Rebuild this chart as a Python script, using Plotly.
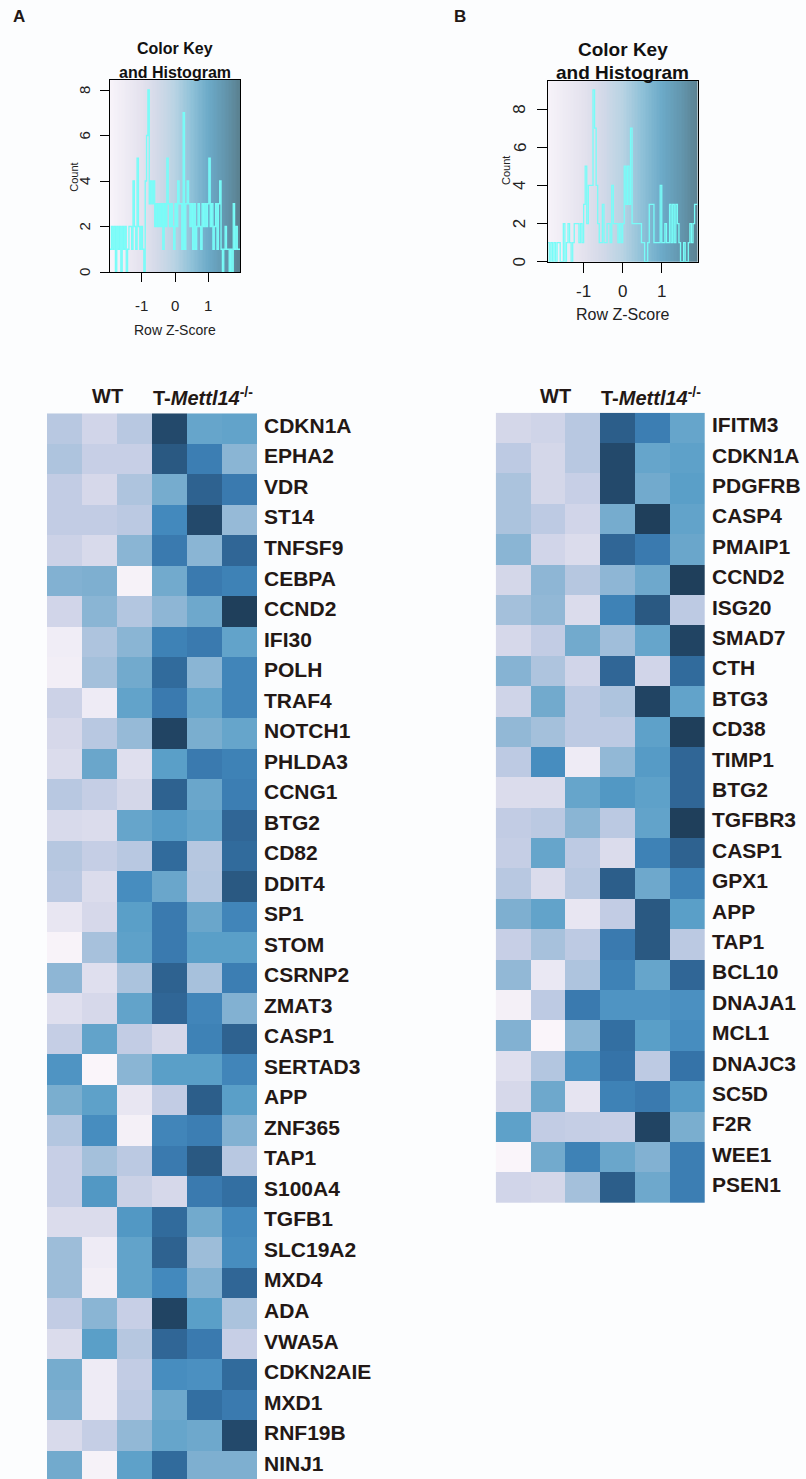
import plotly.graph_objects as go
import numpy as np

# ---------------- data ----------------
genes_a = ["CDKN1A", "EPHA2", "VDR", "ST14", "TNFSF9", "CEBPA", "CCND2", "IFI30", "POLH",
           "TRAF4", "NOTCH1", "PHLDA3", "CCNG1", "BTG2", "CD82", "DDIT4", "SP1", "STOM",
           "CSRNP2", "ZMAT3", "CASP1", "SERTAD3", "APP", "ZNF365", "TAP1", "S100A4",
           "TGFB1", "SLC19A2", "MXD4", "ADA", "VWA5A", "CDKN2AIE", "MXD1", "RNF19B", "NINJ1"]
z_a = [
    [-0.5, -1.0, -0.5, 1.85, 0.65, 0.7],
    [-0.3, -0.8, -0.8, 1.7, 1.25, 0.2],
    [-0.7, -1.1, -0.3, 0.45, 1.6, 1.3],
    [-0.7, -0.7, -0.55, 1.1, 1.85, 0.05],
    [-0.9, -1.15, 0.2, 1.3, 0.2, 1.55],
    [0.3, 0.35, -1.85, 0.5, 1.3, 1.2],
    [-1.0, 0.2, -0.4, 0.15, 0.55, 1.95],
    [-1.7, -0.3, 0.2, 1.2, 1.3, 0.7],
    [-1.75, -0.15, 0.5, 1.5, 0.2, 1.15],
    [-0.9, -1.65, 0.7, 1.3, 0.65, 1.15],
    [-1.1, -0.5, 0.05, 1.9, 0.4, 0.65],
    [-1.2, 0.6, -1.3, 0.8, 1.3, 1.2],
    [-0.5, -0.75, -1.05, 1.6, 0.6, 1.25],
    [-1.15, -1.2, 0.65, 0.85, 0.7, 1.55],
    [-0.45, -0.75, -0.5, 1.5, -0.45, 1.5],
    [-0.55, -1.2, 1.05, 0.6, -0.4, 1.7],
    [-1.5, -1.1, 0.8, 1.3, 0.6, 1.15],
    [-1.9, -0.2, 0.75, 1.3, 0.8, 0.8],
    [0.15, -1.3, -0.25, 1.6, -0.2, 1.25],
    [-1.3, -1.1, 0.7, 1.55, 1.15, 0.3],
    [-0.75, 0.7, -0.7, -1.1, 1.2, 1.6],
    [0.95, -1.95, 0.2, 0.8, 0.8, 1.15],
    [0.4, 0.75, -1.5, -0.7, 1.65, 0.8],
    [-0.4, 1.05, -1.8, 1.15, 1.25, 0.3],
    [-0.8, -0.15, -0.55, 1.3, 1.7, -0.5],
    [-0.8, 0.9, -0.85, -1.1, 1.3, 1.45],
    [-1.2, -1.2, 0.9, 1.5, 0.5, 1.1],
    [-0.05, -1.65, 0.7, 1.6, -0.05, 1.05],
    [-0.05, -1.75, 0.7, 1.1, 0.3, 1.55],
    [-0.7, 0.2, -0.8, 1.9, 0.8, -0.25],
    [-1.2, 0.8, -0.45, 1.55, 1.3, -0.8],
    [0.45, -1.65, -0.7, 1.05, 1.0, 1.5],
    [0.35, -1.65, -0.6, 0.55, 1.45, 1.3],
    [-1.15, -0.75, 0.1, 0.65, 0.55, 1.85],
    [0.5, -1.85, 0.75, 1.5, 0.35, 0.35],
]

genes_b = ["IFITM3", "CDKN1A", "PDGFRB", "CASP4", "PMAIP1", "CCND2", "ISG20", "SMAD7", "CTH",
           "BTG3", "CD38", "TIMP1", "BTG2", "TGFBR3", "CASP1", "GPX1", "APP", "TAP1", "BCL10",
           "DNAJA1", "MCL1", "DNAJC3", "SC5D", "F2R", "WEE1", "PSEN1"]
z_b = [
    [-1.05, -0.95, -0.5, 1.65, 1.25, 0.65],
    [-0.6, -1.05, -0.5, 1.85, 0.65, 0.75],
    [-0.25, -1.05, -0.8, 1.85, 0.5, 0.8],
    [-0.25, -0.6, -1.0, 0.45, 1.95, 0.7],
    [0.2, -1.0, -1.2, 1.55, 1.3, 0.6],
    [-1.05, 0.15, -0.45, 0.15, 0.55, 1.95],
    [-0.15, 0.1, -1.2, 1.2, 1.7, -0.6],
    [-1.1, -0.7, 0.5, -0.1, 0.65, 1.9],
    [0.25, -0.3, -1.0, 1.55, -1.0, 1.5],
    [-0.95, 0.5, -0.6, -0.3, 1.9, 0.7],
    [0.1, -0.15, -0.6, -0.6, 0.75, 1.95],
    [-0.6, 1.05, -1.65, 0.1, 0.85, 1.55],
    [-1.2, -1.2, 0.65, 0.9, 0.75, 1.55],
    [-0.7, -0.55, 0.2, -0.55, 0.7, 1.95],
    [-0.75, 0.65, -0.6, -1.2, 1.2, 1.6],
    [-0.5, -1.2, -0.5, 1.65, 0.55, 1.2],
    [0.35, 0.7, -1.5, -0.7, 1.7, 0.8],
    [-0.8, -0.2, -0.6, 1.3, 1.7, -0.55],
    [0.1, -1.55, -0.3, 1.2, 0.65, 1.55],
    [-1.8, -0.6, 1.3, 0.95, 0.95, 1.0],
    [0.3, -1.95, 0.2, 1.45, 0.8, 1.05],
    [-1.3, -0.4, 0.95, 1.4, -0.6, 1.4],
    [-1.1, 0.55, -1.45, 1.2, 1.3, 0.85],
    [0.75, -0.7, -0.75, -0.8, 1.9, 0.4],
    [-1.95, 0.5, 1.2, 0.6, 0.3, 1.25],
    [-1.0, -1.05, -0.15, 1.65, 0.55, 1.25],
]

columns = ["WT1", "WT2", "WT3", "KO1", "KO2", "KO3"]

hist_a_counts = [1, 2, 1, 2, 0, 2, 1, 2, 0, 2, 1, 2, 0, 1, 2, 2, 1, 4, 2, 1, 5, 2, 1, 2, 1, 0,
                 4, 6, 8, 3, 4, 3, 4, 2, 3, 2, 3, 2, 3, 1, 3, 2, 5, 3, 2, 3, 2, 1, 3, 2, 4, 3,
                 3, 1, 7, 1, 3, 4, 3, 2, 3, 1, 3, 1, 2, 3, 2, 1, 3, 2, 3, 2, 3, 5, 2, 3, 1, 2,
                 3, 1, 3, 4, 1, 0, 1, 2, 1, 1, 0, 1, 0, 3, 1, 2, 1, 1]
hist_b_counts = [1, 0, 1, 0, 1, 0, 1, 1, 0, 0,
                 2, 0, 1, 2, 1, 0, 1, 2, 2, 2,
                 1, 2, 1, 3, 5, 2, 4, 4, 4, 9,
                 7, 4, 2, 1, 1, 3, 1, 1, 2, 2,
                 1, 4, 2, 2, 2, 1, 2, 1, 2, 5,
                 3, 5, 3, 7, 2, 2, 2, 2, 2, 2,
                 1, 1, 0, 0, 1, 3, 3, 3, 1, 1,
                 1, 1, 4, 1, 1, 2, 1, 1, 3, 1,
                 3, 1, 3, 2, 1, 0, 0, 1, 0, 0,
                 1, 2, 1, 2, 3, 3]
hist_a_range = [-1.95, 1.95]
hist_b_range = [-1.91, 1.92]
x_ticks = [-1, 0, 1]
x_tick_text = ["-1", "0", "1"]
y_ticks = [0, 2, 4, 6, 8]

# ---------------- styles ----------------
W, H = 806, 1479
FONT = "Liberation Sans, Arial, Helvetica, sans-serif"
TXT = "#231815"
ZMIN, ZMAX = -1.95, 1.95


def cs(stops):
    return [[(v - ZMIN) / (ZMAX - ZMIN), c] for v, c in stops]


heat_cs = cs([(-1.95, "#faf5fa"), (-1.5, "#e8e6f2"), (-1.1, "#d6d8ea"), (-0.7, "#c2cce4"),
              (-0.3, "#aec4de"), (0.1, "#92b8d6"), (0.5, "#72aacd"), (0.8, "#5a9fc8"),
              (1.1, "#4389bd"), (1.4, "#3573a8"), (1.65, "#2c5e8a"), (1.95, "#1f3f5b")])
key_cs = cs([(-1.95, "#f8f4fa"), (-1.0, "#e4e2ee"), (-0.5, "#d2d9e8"), (0.0, "#b8d3e3"),
             (0.5, "#8fc1d8"), (1.0, "#6caac8"), (1.5, "#6396ae"), (1.95, "#5a808f")])


def px_x(p):
    return p / W


def px_y(p):
    return 1 - p / H


fig = go.Figure()
ann = []


def add_hist(idx, counts, rng, ymax, box, ticklen, tick_font, xlab_y, ylab_x):
    n = len(counts)
    edges = np.linspace(rng[0], rng[1], n + 1)
    centers = (edges[:-1] + edges[1:]) / 2
    xa = "x" if idx == 1 else f"x{idx}"
    ya = "y" if idx == 1 else f"y{idx}"
    fig.add_trace(go.Heatmap(z=[list(centers)], x=list(centers), y0=5, dy=40,
                             colorscale=key_cs, zmin=ZMIN, zmax=ZMAX, showscale=False,
                             hoverinfo="skip", xaxis=xa, yaxis=ya))
    fig.add_trace(go.Scatter(x=list(edges), y=list(counts) + [counts[-1]], mode="lines",
                             line=dict(color="#78fcf8", width=1.3, shape="hv"),
                             hoverinfo="skip", showlegend=False, xaxis=xa, yaxis=ya))
    l, r, t, b = box
    axx = dict(domain=[px_x(l), px_x(r)], range=rng, showline=True, mirror=True,
               linecolor="black", linewidth=1, ticks="outside", ticklen=ticklen,
               tickcolor="black", tickwidth=1, tickvals=x_ticks, showticklabels=False,
               showgrid=False, zeroline=False, anchor=ya)
    axy = dict(domain=[px_y(b), px_y(t)], range=[0, ymax], showline=True, mirror=True,
               linecolor="black", linewidth=1, ticks="outside", ticklen=ticklen,
               tickcolor="black", tickwidth=1, tickvals=y_ticks, showticklabels=False,
               showgrid=False, zeroline=False, anchor=xa)
    key = "" if idx == 1 else str(idx)
    fig.update_layout(**{f"xaxis{key}": axx, f"yaxis{key}": axy})
    for v, s in zip(x_ticks, x_tick_text):
        ann.append(dict(x=v, y=px_y(xlab_y), xref=xa, yref="paper", text=s, showarrow=False,
                        xanchor="center", yanchor="middle",
                        font=dict(family=FONT, size=tick_font, color="#222")))
    for v in y_ticks:
        ann.append(dict(x=px_x(ylab_x), y=v, xref="paper", yref=ya, text=str(v),
                        showarrow=False, xanchor="center", yanchor="middle", textangle=-90,
                        font=dict(family=FONT, size=tick_font, color="#222")))


# histogram A: box 110..240 x, 80..272 y ; 0 at 272, 8 at 90
add_hist(1, hist_a_counts, hist_a_range, (272 - 80) / ((272 - 90) / 8), (110, 240, 80, 272),
         9, 15, 305, 84)
# histogram B: box 547.7..697.7, 80.7..261.7 ; 0 at 261.7, 8 at 109
add_hist(2, hist_b_counts, hist_b_range, (261.7 - 80.7) / ((261.7 - 109) / 8),
         (547.7, 697.7, 80.7, 261.7), 10, 17, 292, 519.7)


def add_heat(idx, genes, z, left, right, top, bottom, row_h):
    xa, ya = f"x{idx}", f"y{idx}"
    fig.add_trace(go.Heatmap(z=z, x=list(range(len(columns))), y=list(range(len(genes))),
                             colorscale=heat_cs, zmin=ZMIN, zmax=ZMAX, showscale=False,
                             hoverinfo="skip", xaxis=xa, yaxis=ya))
    ybot = min(bottom, H)
    y_end = (ybot - top) / row_h - 0.5
    fig.update_layout(**{
        f"xaxis{idx}": dict(domain=[px_x(left), px_x(right)], range=[-0.5, 5.5],
                            visible=False, anchor=ya),
        f"yaxis{idx}": dict(domain=[px_y(ybot), px_y(top)], range=[y_end, -0.5],
                            side="right", tickvals=list(range(len(genes))), ticktext=genes,
                            ticks="", showgrid=False, zeroline=False, showline=False,
                            tickfont=dict(family=FONT, size=21, color=TXT, weight="bold"),
                            ticklabelstandoff=6, ticklabelshift=3, anchor=xa),
    })


row_a = 30.52
add_heat(3, genes_a, z_a, 47, 257, 413.3, 413.3 + row_a * len(genes_a), row_a)
add_heat(4, genes_b, z_b, 495.7, 705, 412.7, 1203, (1203 - 412.7) / len(genes_b))


def text(x, y, s, size, bold=False, xanchor="center", angle=0, color=TXT):
    ann.append(dict(x=px_x(x), y=px_y(y), xref="paper", yref="paper", text=s,
                    showarrow=False, xanchor=xanchor, yanchor="middle", textangle=angle,
                    font=dict(family=FONT, size=size, color=color,
                              weight="bold" if bold else "normal")))


text(19, 16, "A", 17, True)
text(460, 16, "B", 17, True)
text(174.5, 48, "Color Key", 16, True, color="#111")
text(174.5, 72, "and Histogram", 16, True, color="#111")
text(622.7, 50, "Color Key", 19, True, color="#111")
text(622.7, 73, "and Histogram", 19, True, color="#111")
text(175, 330, "Row Z-Score", 14, color="#222")
text(622.7, 315, "Row Z-Score", 16, color="#222")
text(73.7, 177, "Count", 11, angle=-90, color="#222")
text(506, 171, "Count", 11, angle=-90, color="#222")
text(107.5, 396, "WT", 20, True)
text(151, 396, "T-<i>Mettl14</i><sup>-/-</sup>", 20, True, xanchor="left")
text(555, 396, "WT", 20, True)
text(599, 396, "T-<i>Mettl14</i><sup>-/-</sup>", 20, True, xanchor="left")

fig.update_layout(width=W, height=H, margin=dict(l=0, r=0, t=0, b=0),
                  paper_bgcolor="#fcfdfe", plot_bgcolor="#fcfdfe",
                  showlegend=False, annotations=ann)

fig.write_html("out.html", config={"displayModeBar": False},
               post_script="document.body.style.margin='0px';")
